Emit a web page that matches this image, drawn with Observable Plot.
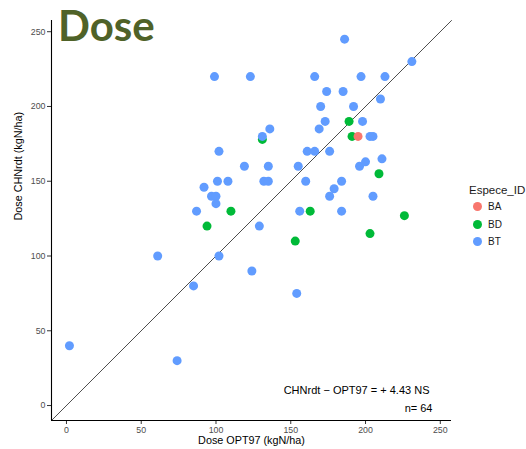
<!DOCTYPE html>
<html>
<head>
<meta charset="utf-8">
<script src="https://cdn.jsdelivr.net/npm/d3@7"></script>
<script src="https://cdn.jsdelivr.net/npm/@observablehq/plot@0.6"></script>
<style>
  html, body { margin: 0; padding: 0; background: #fff; }
  #wrap { position: relative; width: 526px; height: 449px; font-family: "Liberation Sans", Arial, sans-serif; }
  #title { position: absolute; left: 58px; top: 4px; font-family: Lato, "Open Sans", sans-serif; font-weight: 700; font-size: 42px; line-height: 42px; color: #4F6228; }
  #legend { position: absolute; left: 469px; top: 182px; font-family: "Liberation Sans", Arial, sans-serif; color: #1a1a1a; }
  #legend .lt { font-size: 11.5px; line-height: 16px; }
  #legend .row { position: relative; height: 17.5px; font-size: 10px; line-height: 17.5px; }
  #legend .dot { position: absolute; left: 4px; top: 4.25px; width: 9px; height: 9px; border-radius: 50%; }
  #legend .lab { position: absolute; left: 19px; top: 0; }
</style>
</head>
<body>
<div id="wrap">
  <div id="chart"></div>
  <div id="title">Dose</div>
  <div id="legend"></div>
</div>
<script>
// Categories and colours
const species = ["BA", "BD", "BT"];
const speciesColors = ["#F8766D", "#00BA38", "#619CFF"];

// Points: Dose OPT97 (x), Dose CHNrdt (y), species
const opt97 = [
  // BD
  131, 110, 94, 189, 191, 209, 163, 226, 153, 203,
  // BA
  195,
  // BT
  99, 123, 131, 102, 119, 101, 108, 132, 135, 92,
  97, 100, 100, 87, 186, 166, 197, 213, 231, 174,
  185, 210, 170, 192, 173, 198, 169, 136, 203, 205,
  161, 166, 176, 135, 155, 196, 200, 211, 160, 184,
  179, 176, 205, 156, 184, 129, 61, 102, 85, 124,
  154, 2, 74
];
const chnrdt = [
  // BD
  178, 130, 120, 190, 180, 155, 130, 127, 110, 115,
  // BA
  180,
  // BT
  220, 220, 180, 170, 160, 150, 150, 150, 150, 146,
  140, 140, 135, 130, 245, 220, 220, 220, 230, 210,
  210, 205, 200, 200, 190, 190, 185, 185, 180, 180,
  170, 170, 170, 160, 160, 160, 163, 165, 150, 150,
  145, 140, 140, 130, 130, 120, 100, 100, 80, 90,
  75, 40, 30
];
const espece = [
  "BD", "BD", "BD", "BD", "BD", "BD", "BD", "BD", "BD", "BD",
  "BA",
  ...Array(53).fill("BT")
];

// Axis ticks and texts
const ticks = [0, 50, 100, 150, 200, 250];
const axisDomain = [-10, 257.5];
const xTitle = "Dose OPT97 (kgN/ha)";
const yTitle = "Dose CHNrdt (kgN/ha)";
const annot1 = "CHNrdt \u2212 OPT97 = + 4.43 NS";
const annot2 = "n= " + opt97.length;
const legendTitle = "Espece_ID";

const data = opt97.map((x, i) => ({x, y: chnrdt[i], sp: espece[i]}));

const chart = Plot.plot({
  width: 526,
  height: 449,
  marginLeft: 51,
  marginRight: 75,
  marginTop: 20,
  marginBottom: 29,
  style: {fontFamily: "'Liberation Sans', Arial, sans-serif", fontSize: "8.8px", background: "#fff", overflow: "visible"},
  x: {domain: axisDomain, ticks: ticks},
  y: {domain: axisDomain, ticks: ticks},
  color: {domain: species, range: speciesColors},
  marks: [
    Plot.axisX({ticks, tickSize: 4, tickPadding: 2, fill: "#4d4d4d", stroke: "#333", label: null}),
    Plot.axisY({ticks, tickSize: 4, tickPadding: 2, fill: "#4d4d4d", stroke: "#333", label: null}),
    Plot.ruleX([axisDomain[0]], {stroke: "#000", strokeWidth: 1.1}),
    Plot.ruleY([axisDomain[0]], {stroke: "#000", strokeWidth: 1.1}),
    Plot.line(axisDomain.map(v => ({x: v, y: v})), {x: "x", y: "y", stroke: "#000", strokeWidth: 0.7}),
    Plot.dot(data, {x: "x", y: "y", fill: "sp", r: 4.5}),
    Plot.text([xTitle], {frameAnchor: "bottom", dy: 23.5, fontSize: 10.8, fill: "#000", text: d => d}),
    Plot.text([yTitle], {frameAnchor: "left", dx: -33, rotate: -90, fontSize: 10.8, fill: "#000", text: d => d}),
    Plot.text([annot1], {frameAnchor: "bottom-right", textAnchor: "end", dx: -22, dy: -27, fontSize: 11, fill: "#000", text: d => d}),
    Plot.text([annot2], {frameAnchor: "bottom-right", textAnchor: "end", dx: -19, dy: -9, fontSize: 11, fill: "#000", text: d => d})
  ]
});
document.getElementById("chart").appendChild(chart);

// Legend
const lg = document.getElementById("legend");
const t = document.createElement("div");
t.className = "lt";
t.textContent = legendTitle;
lg.appendChild(t);
species.forEach((s, i) => {
  const row = document.createElement("div");
  row.className = "row";
  const dot = document.createElement("span");
  dot.className = "dot";
  dot.style.background = speciesColors[i];
  const lab = document.createElement("span");
  lab.className = "lab";
  lab.textContent = s;
  row.appendChild(dot);
  row.appendChild(lab);
  lg.appendChild(row);
});
</script>
</body>
</html>
